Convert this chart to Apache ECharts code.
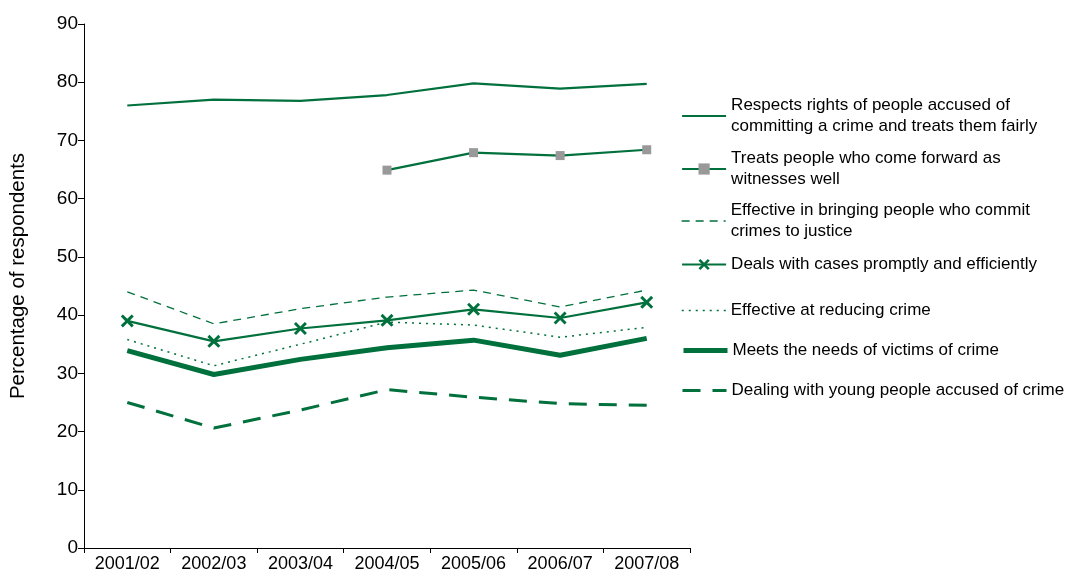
<!DOCTYPE html>
<html>
<head>
<meta charset="utf-8">
<script src="https://cdn.jsdelivr.net/npm/echarts@6/dist/echarts.min.js"></script>
<style>
html,body{margin:0;padding:0;background:#fff;}
#chart{width:1072px;height:579px;}
</style>
</head>
<body>
<div id="chart"></div>
<script>
var categories = ['2001/02','2002/03','2003/04','2004/05','2005/06','2006/07','2007/08'];
var yTicks = [0,10,20,30,40,50,60,70,80,90];

var seriesNames = [
  'Respects rights of people accused of committing a crime and treats them fairly',
  'Treats people who come forward as witnesses well',
  'Effective in bringing people who commit crimes to justice',
  'Deals with cases promptly and efficiently',
  'Effective at reducing crime',
  'Meets the needs of victims of crime',
  'Dealing with young people accused of crime'
];
var legendLabels = [
  'Respects rights of people accused of\ncommitting a crime and treats them fairly',
  'Treats people who come forward as\nwitnesses well',
  'Effective in bringing people who commit\ncrimes to justice',
  'Deals with cases promptly and efficiently',
  'Effective at reducing crime',
  'Meets the needs of victims of crime',
  'Dealing with young people accused of crime'
];

var respectsRights = [76, 77, 76.8, 77.8, 79.8, 78.9, 79.7];
var witnesses      = [null, null, null, 64.9, 67.9, 67.4, 68.4];
var bringJustice   = [44, 38.5, 41.1, 43.1, 44.3, 41.4, 44.3];
var promptly       = [39, 35.5, 37.7, 39.1, 41, 39.5, 42.2];
var reducingCrime  = [35.8, 31.3, 35, 38.8, 38.3, 36.2, 37.9];
var victims        = [33.9, 29.8, 32.4, 34.4, 35.7, 33.1, 36];
var youngPeople    = [25, 20.6, 23.7, 27.2, 25.9, 24.8, 24.5];

var GREEN = '#00703c';
var FONT = 'Liberation Sans, Arial, sans-serif';
var xPath = 'path://M0,1.6L1.6,0L5,3.4L8.4,0L10,1.6L6.6,5L10,8.4L8.4,10L5,6.6L1.6,10L0,8.4L3.4,5Z';

var lineStyles = [
  {color: GREEN, width: 2.2, type: 'solid'},
  {color: GREEN, width: 2.2, type: 'solid'},
  {color: GREEN, width: 1.3, type: [8, 6]},
  {color: GREEN, width: 2.2, type: 'solid'},
  {color: GREEN, width: 1.5, type: [2, 5]},
  {color: GREEN, width: 5, type: 'solid'},
  {color: GREEN, width: 3, type: [18, 12]}
];

var legendTops = [95, 148, 200, 254, 300, 340, 380];
var legendHasSymbol = [false, true, false, true, false, false, false];

var chart = echarts.init(document.getElementById('chart'), null, {renderer:'canvas'});

function mkLegend(i){
  var ls = lineStyles[i];
  var lg = {
    left: 681, top: legendTops[i], orient: 'vertical', padding: 0,
    itemWidth: 44, itemHeight: 14, itemGap: 0,
    data: [seriesNames[i]],
    selectedMode: false,
    formatter: function(){ return legendLabels[i]; },
    lineStyle: {color: ls.color, width: ls.width, type: ls.type},
    textStyle: {fontFamily: FONT, fontSize: 17, lineHeight: 21, color: '#000'}
  };
  if (!legendHasSymbol[i]) {
    lg.itemStyle = {color: 'rgba(0,0,0,0)', borderColor: 'rgba(0,0,0,0)', borderWidth: 0, opacity: 0};
  }
  return lg;
}

var option = {
  backgroundColor: '#fff',
  animation: false,
  textStyle: {fontFamily: FONT},
  grid: {left: 83, right: 382, top: 24, bottom: 31, containLabel: false},
  legend: [0,1,2,3,4,5,6].map(mkLegend),
  xAxis: {
    type: 'category',
    data: categories,
    boundaryGap: true,
    axisLine: {lineStyle: {color: '#000', width: 1}},
    axisTick: {show: true, interval: 0, length: 5, lineStyle: {color: '#000'}},
    axisLabel: {interval: 0, fontFamily: FONT, fontSize: 18, color: '#000', margin: 7},
    splitLine: {show: false}
  },
  yAxis: {
    type: 'value',
    min: yTicks[0], max: yTicks[yTicks.length-1], interval: 10,
    name: 'Percentage of respondents',
    nameLocation: 'middle',
    nameGap: 55,
    nameRotate: 90,
    nameTextStyle: {fontFamily: FONT, fontSize: 20.5, color: '#000', padding: [0, 0, 0, 20]},
    axisLine: {show: true, lineStyle: {color: '#000', width: 1}},
    axisTick: {show: true, length: 6, lineStyle: {color: '#000'}},
    axisLabel: {fontFamily: FONT, fontSize: 19, color: '#000', margin: 6},
    splitLine: {show: false}
  },
  series: [
    {name: seriesNames[0], type: 'line', data: respectsRights, symbol: 'none',
     lineStyle: lineStyles[0], itemStyle: {color: GREEN}},
    {name: seriesNames[1], type: 'line', data: witnesses, symbol: 'rect', symbolSize: 9,
     lineStyle: lineStyles[1], itemStyle: {color: '#999999'}},
    {name: seriesNames[2], type: 'line', data: bringJustice, symbol: 'none',
     lineStyle: lineStyles[2], itemStyle: {color: GREEN}},
    {name: seriesNames[3], type: 'line', data: promptly, symbol: xPath, symbolSize: 13,
     lineStyle: lineStyles[3], itemStyle: {color: GREEN}},
    {name: seriesNames[4], type: 'line', data: reducingCrime, symbol: 'none',
     lineStyle: lineStyles[4], itemStyle: {color: GREEN}},
    {name: seriesNames[5], type: 'line', data: victims, symbol: 'none',
     lineStyle: lineStyles[5], itemStyle: {color: GREEN}},
    {name: seriesNames[6], type: 'line', data: youngPeople, symbol: 'none',
     lineStyle: lineStyles[6], itemStyle: {color: GREEN}}
  ]
};
chart.setOption(option);
</script>
</body>
</html>
